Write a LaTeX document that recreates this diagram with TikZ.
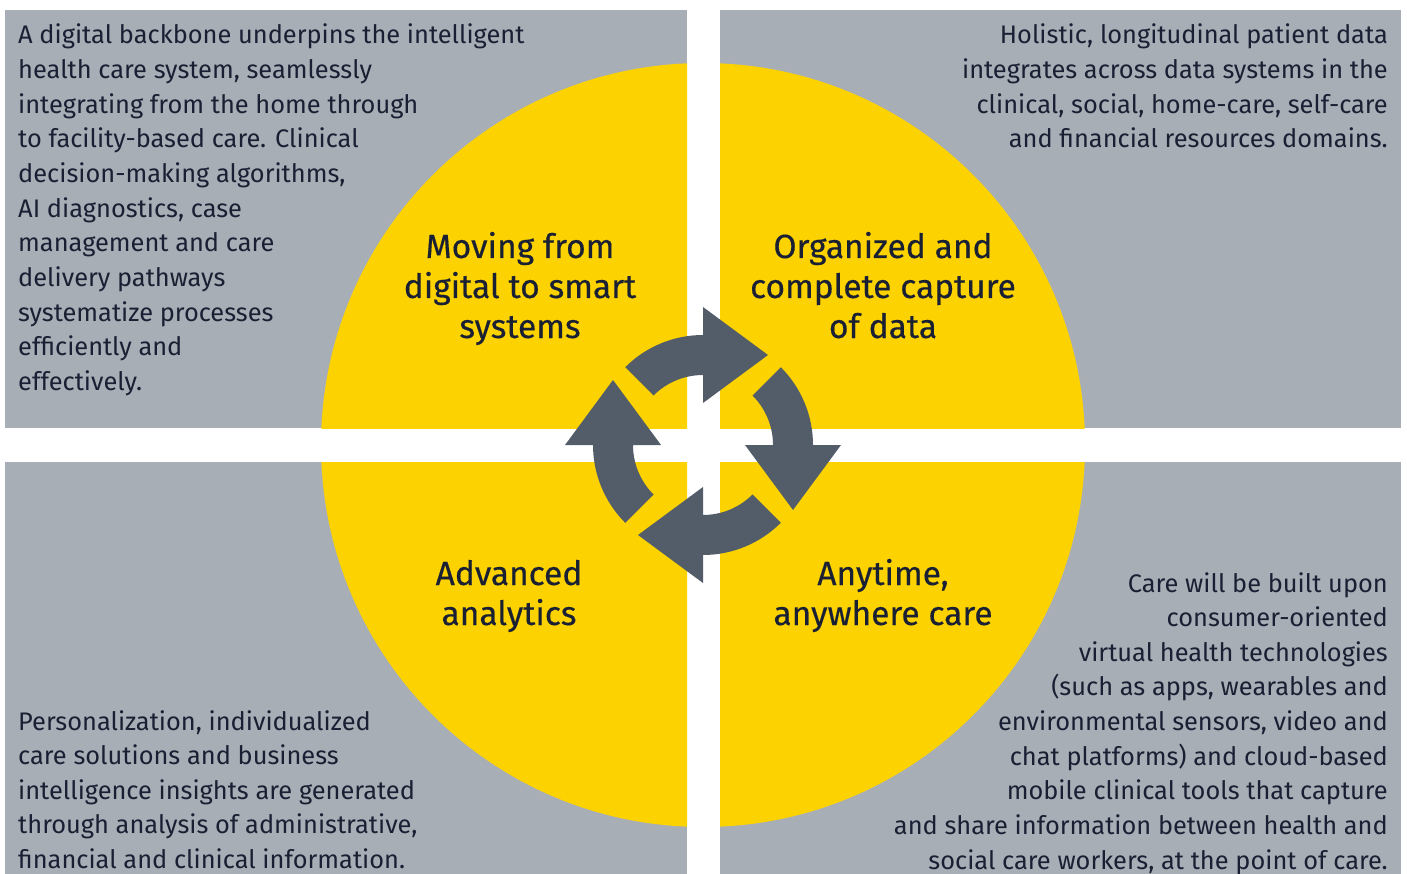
\documentclass[tikz,border=0pt]{standalone}
\usepackage{fontspec}
\setmainfont{Fira Sans}
\newfontfamily\titlefont[FakeBold=0.4]{Fira Sans}
\usetikzlibrary{calc}

\definecolor{panelgrey}{RGB}{168,174,181}
\definecolor{discyellow}{RGB}{252,210,0}
\definecolor{arrowgrey}{RGB}{83,92,105}
\definecolor{inkblue}{RGB}{26,32,51}

\begin{document}
\begin{tikzpicture}[x=1pt,y=-1pt,
	body/.style={inner sep=0, text=inkblue, font=\fontsize{25.4}{30}\selectfont},
	title/.style={inner sep=0, text=inkblue, font=\titlefont\fontsize{33.5}{38}\selectfont, anchor=base}]

	%one unit is one point, y runs downwards
	%the disc sits on the crossing of the two white gaps

	\def\cx{703}
	\def\cy{445}
	\def\radius{382}
	\def\lineskip{34.65}
	\def\titleskip{40}
	\def\rout{110}
	\def\rin{70}
	\def\rmid{90}
	\def\headhalf{48}
	\def\headlen{65}

	\useasboundingbox (0,0) rectangle (1407,874);

	%grey panels, each with its quarter of the yellow disc
	\foreach \xa/\ya/\xb/\yb in {5/10/687/428, 720/10/1401/428, 5/462/687/874, 720/462/1401/874}
   {
		\fill [panelgrey] (\xa,\ya) rectangle (\xb,\yb);
		\begin{scope}
			\clip (\xa,\ya) rectangle (\xb,\yb);
			\fill [discyellow] (\cx,\cy) circle [radius=\radius];
		\end{scope}
   }

	%cycle arrows, named by where the head points
	\begin{scope}[shift={(\cx,\cy)}, y=1pt]
	\foreach \name/\a in {up/180, right/90, down/0, left/270}
   {
		\fill [arrowgrey] ({\a+45}:\rout) arc [start angle={\a+45}, end angle=\a, radius=\rout]
			-- (\a:{\rmid+\headhalf}) -- ($(\a:\rmid)+({\a-90}:\headlen)$) -- (\a:{\rmid-\headhalf})
			-- (\a:\rin) arc [start angle=\a, end angle={\a+45}, radius=\rin] -- cycle;
   }
	\end{scope}

	%titles on the disc
	\foreach \line [count=\i] in {Moving from, digital to smart, systems}
		\node [title] (titleTL\i) at (520, {258+(\i-1)*\titleskip}) {\line};
	\foreach \line [count=\i] in {Organized and, complete capture, of data}
		\node [title] (titleTR\i) at (883, {258+(\i-1)*\titleskip}) {\line};
	\foreach \line [count=\i] in {Advanced, analytics}
		\node [title] (titleBL\i) at (509, {585+(\i-1)*\titleskip}) {\line};
	\foreach \line [count=\i] in {{Anytime,}, anywhere care}
		\node [title] (titleBR\i) at (883, {585+(\i-1)*\titleskip}) {\line};

	%upper left text
	\foreach \line [count=\i] in {A digital backbone underpins the intelligent, {health care system, seamlessly},
		integrating from the home through, to facility-based care. Clinical, {decision-making algorithms,},
		{AI diagnostics, case}, management and care, delivery pathways, systematize processes,
		efficiently and, effectively.}
		\node [body, anchor=base west] (textTL\i) at (18, {44+(\i-1)*\lineskip}) {\line};

	%upper right text
	\foreach \line [count=\i] in {{Holistic, longitudinal patient data}, integrates across data systems in the,
		{clinical, social, home-care, self-care}, and financial resources domains.}
		\node [body, anchor=base east] (textTR\i) at (1388, {44+(\i-1)*\lineskip}) {\line};

	%lower left text
	\foreach \line [count=\i] in {{Personalization, individualized}, care solutions and business,
		intelligence insights are generated, {through analysis of administrative,},
		financial and clinical information.}
		\node [body, anchor=base west] (textBL\i) at (18, {730+(\i-1)*\lineskip}) {\line};

	%lower right text
	\foreach \line [count=\i] in {Care will be built upon, consumer-oriented, virtual health technologies,
		{(such as apps, wearables and}, {environmental sensors, video and}, {chat platforms) and cloud-based},
		mobile clinical tools that capture, and share information between health and,
		{social care workers, at the point of care.}}
		\node [body, anchor=base east] (textBR\i) at (1388, {592+(\i-1)*\lineskip}) {\line};

\end{tikzpicture}
\end{document}
